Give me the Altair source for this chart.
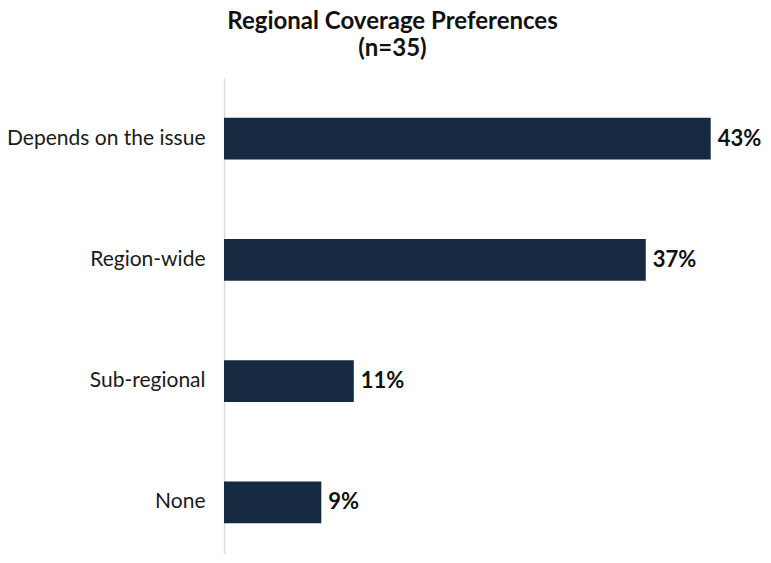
import altair as alt
import pandas as pd

categories = ["Depends on the issue", "Region-wide", "Sub-regional", "None"]
values = [42.86, 37.14, 11.43, 8.57]
labels = ["43%", "37%", "11%", "9%"]

df = pd.DataFrame({"cat": categories, "val": values, "lab": labels})

FONT = "Lato"

y = alt.Y("cat:N", sort=categories, title=None,
          scale=alt.Scale(paddingInner=0.654, range=[0, 485]),
          axis=alt.Axis(ticks=False, labelFontSize=21, labelFont=FONT, labelColor="#1a1a1a",
                        labelPadding=19, labelLimit=400,
                        domainColor="#d9d9d9", domainWidth=1.5))
x = alt.X("val:Q", title=None, scale=alt.Scale(domain=[0, 45]), axis=None)

bars = alt.Chart(df).mark_bar(color="#152a41").encode(x=x, y=y)
text = alt.Chart(df).mark_text(align="left", dx=7, fontSize=22, fontWeight="bold",
                               font=FONT, color="#111111").encode(x=x, y=y, text="lab:N")

chart = (bars + text).properties(
    width=511, height=476,
    title=alt.TitleParams(["Regional Coverage Preferences", "(n=35)"], fontSize=24,
                          font=FONT, fontWeight="bold", color="#111111",
                          anchor="middle", dx=-87, offset=17, lineHeight=27),
    autosize=alt.AutoSizeParams(type="none"),
    padding={"left": 216, "top": 70, "right": 28, "bottom": 0},
).configure_view(stroke=None)

chart.save("out.html", embed_options={"renderer": "svg", "actions": False})
